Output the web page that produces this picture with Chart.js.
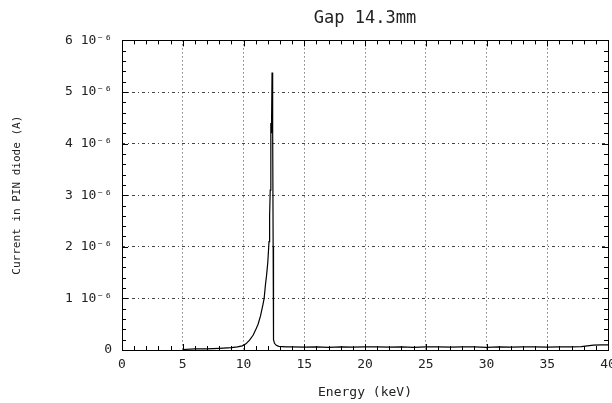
<!DOCTYPE html>
<html>
<head>
<meta charset="utf-8">
<script src="https://cdn.jsdelivr.net/npm/chart.js@4.4.1/dist/chart.umd.min.js"></script>
<style>
  html, body { margin: 0; padding: 0; background: #fff; }
  #wrap { width: 612px; height: 403px; }
</style>
</head>
<body>
<div id="wrap"><canvas id="chart" width="612" height="403"></canvas></div>
<script>
// ---- data (current in units of 1e-6 A) ----
var energyKeV = [5.0, 6.0, 7.0, 8.0, 9.0, 9.5, 9.9, 10.2, 10.5, 10.8, 11.0, 11.2, 11.4, 11.6, 11.7,
  11.8, 11.9, 12.0, 12.1, 12.15, 12.2, 12.25, 12.3, 12.35, 12.4, 12.44, 12.47, 12.55, 12.7, 12.9,
  13.5, 14, 15, 16, 17, 18, 19, 20, 21, 22, 23, 24, 25, 26, 27, 28, 29, 30, 31, 32, 33, 34, 35,
  36, 37, 37.8, 38.3, 38.8, 39.5, 40];
var currentE6 = [0.01, 0.02, 0.02, 0.03, 0.045, 0.06, 0.08, 0.12, 0.19, 0.29, 0.39, 0.5, 0.66, 0.88, 1.0,
  1.25, 1.45, 1.7, 2.1, 2.6, 3.1, 4.4, 4.2, 5.38, 4.3, 2.0, 0.2, 0.13, 0.09, 0.07,
  0.06, 0.06, 0.055, 0.06, 0.05, 0.06, 0.055, 0.06, 0.06, 0.055, 0.06, 0.05, 0.06, 0.06, 0.055, 0.06, 0.06, 0.05, 0.06, 0.055,
  0.06, 0.06, 0.055, 0.06, 0.06, 0.065, 0.08, 0.095, 0.1, 0.1];

var xMajor = [0, 5, 10, 15, 20, 25, 30, 35, 40];
var yMajor = [0, 1, 2, 3, 4, 5, 6];
var xMinorStep = 1;
var yMinorStep = 0.2;

var points = [];
for (var i = 0; i < energyKeV.length; i++) {
  points.push({ x: energyKeV[i], y: currentE6[i] });
}

var SUP = { '-': '\u207B', '0': '\u2070', '1': '\u00B9', '2': '\u00B2', '3': '\u00B3', '4': '\u2074',
  '5': '\u2075', '6': '\u2076', '7': '\u2077', '8': '\u2078', '9': '\u2079' };
function sup(s) { return s.split('').map(function(c) { return SUP[c] || c; }).join(''); }

// box + inward ticks on all four sides
var frame = {
  id: 'frame',
  afterDraw: function(chart) {
    var ctx = chart.ctx, a = chart.chartArea;
    var xs = chart.scales.x, ys = chart.scales.y;
    ctx.save();
    ctx.strokeStyle = '#000';
    ctx.lineWidth = 1;
    ctx.beginPath();
    var v, p;
    for (v = 0; v <= 40 + 1e-9; v += xMinorStep) {
      p = Math.round(xs.getPixelForValue(v)) + 0.5;
      var len = (v % 5 === 0) ? 6 : 4;
      ctx.moveTo(p, a.bottom); ctx.lineTo(p, a.bottom - len);
      ctx.moveTo(p, a.top); ctx.lineTo(p, a.top + len);
    }
    for (var k = 0; k <= 30; k++) {
      v = k * yMinorStep;
      p = Math.round(ys.getPixelForValue(v)) + 0.5;
      var l2 = (k % 5 === 0) ? 6 : 4;
      ctx.moveTo(a.left, p); ctx.lineTo(a.left + l2, p);
      ctx.moveTo(a.right, p); ctx.lineTo(a.right - l2, p);
    }
    ctx.stroke();
    ctx.strokeRect(Math.round(a.left) + 0.5, Math.round(a.top) + 0.5,
      Math.round(a.right - a.left), Math.round(a.bottom - a.top));
    ctx.restore();
  }
};

var textColor = '#222';
var mono = '"DejaVu Sans Mono", monospace';

new Chart(document.getElementById('chart').getContext('2d'), {
  type: 'line',
  data: {
    datasets: [{
      data: points,
      borderColor: '#000',
      borderWidth: 1.2,
      pointRadius: 0,
      fill: false,
      tension: 0
    }]
  },
  options: {
    responsive: false,
    animation: false,
    layout: { padding: { right: 4, left: 0, top: 0, bottom: 0 } },
    plugins: {
      legend: { display: false },
      tooltip: { enabled: false },
      title: {
        display: true,
        text: 'Gap 14.3mm',
        fullSize: false,
        color: textColor,
        font: { family: mono, size: 17, weight: 'normal' },
        padding: { top: 8, bottom: 12 }
      }
    },
    scales: {
      x: {
        type: 'linear',
        min: 0, max: 40,
        afterBuildTicks: function(s) { s.ticks = xMajor.map(function(v) { return { value: v }; }); },
        afterFit: function(s) { s.height = 53; s.paddingLeft = 0; s.paddingRight = 0; },
        ticks: {
          autoSkip: false, maxRotation: 0, minRotation: 0,
          color: textColor, padding: 7,
          font: { family: mono, size: 13 }
        },
        // dotted vertical grid (v4 takes grid dash from border.dash)
        grid: { color: '#444', lineWidth: 1, drawTicks: false, tickLength: 0 },
        border: { display: false, dash: [1, 3] },
        title: {
          display: true, text: 'Energy (keV)', color: textColor,
          font: { family: mono, size: 13 }, padding: { top: 0, bottom: 3 }
        }
      },
      y: {
        type: 'linear',
        min: 0, max: 6,
        afterBuildTicks: function(s) { s.ticks = yMajor.map(function(v) { return { value: v }; }); },
        afterFit: function(s) { s.width = 122; s.paddingTop = 0; s.paddingBottom = 0; },
        ticks: {
          color: textColor, padding: 10,
          font: { family: mono, size: 13 },
          callback: function(v) { return v === 0 ? '0' : v + ' 10' + sup('-6'); }
        },
        grid: { color: '#444', lineWidth: 1, drawTicks: false, tickLength: 0 },
        border: { display: false, dash: [3, 3, 1, 3] },
        title: {
          display: true, text: 'Current in PIN diode (A)', color: textColor,
          font: { family: mono, size: 11 }, padding: { top: 11, bottom: 0 }
        }
      }
    }
  },
  plugins: [frame]
});
</script>
</body>
</html>
